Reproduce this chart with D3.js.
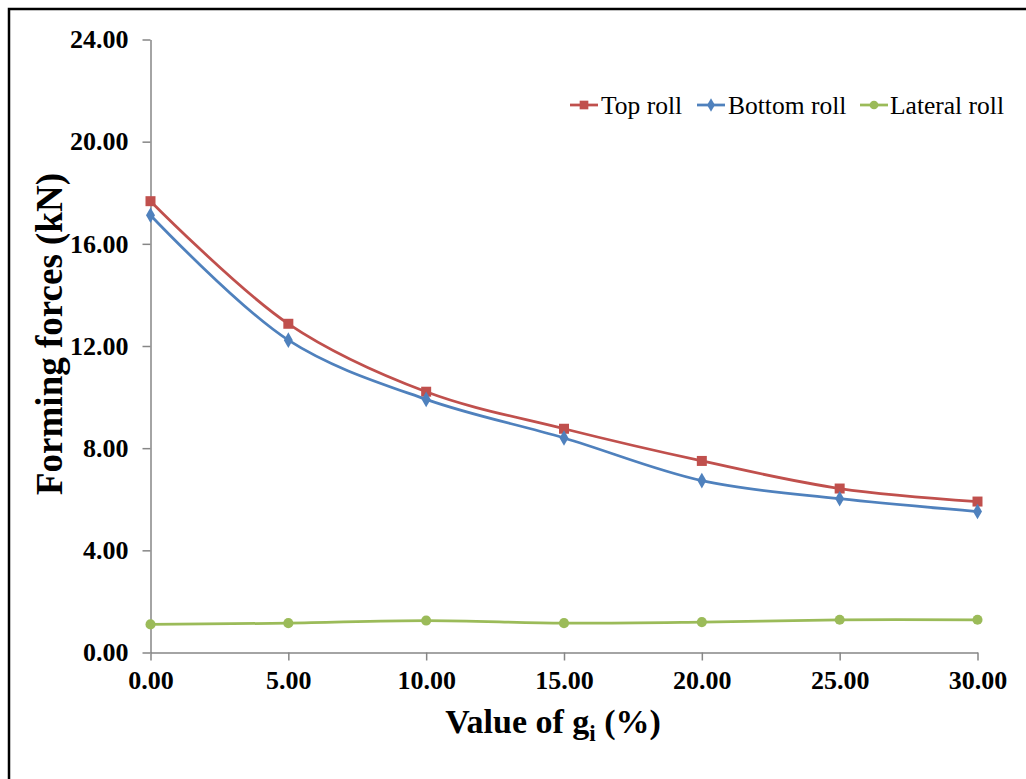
<!DOCTYPE html>
<html>
<head>
<meta charset="utf-8">
<script src="https://cdn.jsdelivr.net/npm/d3@7/dist/d3.min.js"></script>
<style>
html,body{margin:0;padding:0;background:#fff;}
svg{display:block;}
</style>
</head>
<body>
<script>
const xValues = [0, 5, 10, 15, 20, 25, 30];
const topRoll = [17.67, 12.87, 10.21, 8.76, 7.50, 6.42, 5.91];
const bottomRoll = [17.12, 12.23, 9.91, 8.40, 6.73, 6.02, 5.52];
const lateralRoll = [1.10, 1.15, 1.25, 1.15, 1.19, 1.28, 1.28];
const seriesNames = ["Top roll", "Bottom roll", "Lateral roll"];
const xTicks = [0, 5, 10, 15, 20, 25, 30];
const yTicks = [0, 4, 8, 12, 16, 20, 24];

const W = 1026, H = 779;
const svg = d3.select("body").append("svg").attr("width", W).attr("height", H);
svg.append("rect").attr("width", W).attr("height", H).attr("fill", "#fff");
// frame (extends beyond the picture on right/bottom)
svg.append("rect").attr("x", 9).attr("y", 9).attr("width", W + 20).attr("height", H + 20)
  .attr("fill", "none").attr("stroke", "#000").attr("stroke-width", 2.5);

const x = d3.scaleLinear().domain([0, 30]).range([150.5, 977.5]);
const y = d3.scaleLinear().domain([0, 24]).range([652.5, 39.5]);

const font = "'Liberation Serif', 'Times New Roman', serif";
const axisColor = "#868686";

// Y axis
const yAxis = svg.append("g").attr("transform", `translate(${x(0)},0)`)
  .call(d3.axisLeft(y).tickValues(yTicks).tickSize(8).tickSizeOuter(0).tickPadding(14).tickFormat(d3.format(".2f")));
// X axis
const xAxis = svg.append("g").attr("transform", `translate(0,${y(0)})`)
  .call(d3.axisBottom(x).tickValues(xTicks).tickSize(8).tickSizeOuter(0).tickPadding(10).tickFormat(d3.format(".2f")));
[yAxis, xAxis].forEach(g => {
  g.select(".domain").attr("stroke", axisColor).attr("stroke-width", 1.5);
  g.selectAll(".tick line").attr("stroke", axisColor).attr("stroke-width", 1.5);
  g.selectAll(".tick text").attr("fill", "#000").style("font-family", font)
    .style("font-size", "26px").style("font-weight", "bold");
});
xAxis.selectAll(".tick text").attr("dy", "0.71em");

const series = [
  {name: seriesNames[0], values: topRoll, color: "#C0504D", marker: d3.symbolSquare, size: 100},
  {name: seriesNames[1], values: bottomRoll, color: "#4F81BD", marker: d3.symbolDiamond, size: 70},
  {name: seriesNames[2], values: lateralRoll, color: "#9BBB59", marker: d3.symbolCircle, size: 80}
];

const line = d3.line().x((d, i) => x(xValues[i])).y(d => y(d)).curve(d3.curveCatmullRom.alpha(0.5));

series.forEach(s => {
  svg.append("path").attr("d", line(s.values)).attr("fill", "none")
    .attr("stroke", s.color).attr("stroke-width", 2.75);
  svg.selectAll(null).data(s.values).enter().append("path")
    .attr("d", d3.symbol().type(s.marker).size(s.size))
    .attr("transform", (d, i) => `translate(${x(xValues[i])},${y(d)})`)
    .attr("fill", s.color);
});

// Legend
const legendItems = [
  {x0: 570, tx: 601},
  {x0: 697, tx: 728},
  {x0: 860, tx: 890}
];
const ly = 105;
series.forEach((s, i) => {
  const L = legendItems[i];
  svg.append("line").attr("x1", L.x0).attr("x2", L.x0 + 28).attr("y1", ly).attr("y2", ly)
    .attr("stroke", s.color).attr("stroke-width", 2.75);
  svg.append("path").attr("d", d3.symbol().type(s.marker).size(s.size * 0.75))
    .attr("transform", `translate(${L.x0 + 14},${ly})`).attr("fill", s.color);
  svg.append("text").attr("x", L.tx).attr("y", ly).attr("dy", "0.35em")
    .style("font-family", font).style("font-size", "25.5px").attr("fill", "#000").text(s.name);
});

// Axis titles
const xt = svg.append("text").attr("x", 553).attr("y", 733).attr("text-anchor", "middle")
  .style("font-family", font).style("font-size", "34px").style("font-weight", "bold").attr("fill", "#000");
xt.append("tspan").text("Value of g");
xt.append("tspan").text("i").attr("dy", 8).style("font-size", "23px");
xt.append("tspan").text(" (%)").attr("dy", -8);

svg.append("text").attr("transform", "translate(49,334) rotate(-90)")
  .attr("text-anchor", "middle").attr("dy", "0.35em")
  .style("font-family", font).style("font-size", "37px").style("font-weight", "bold").attr("fill", "#000")
  .text("Forming forces (kN)");
</script>
</body>
</html>
